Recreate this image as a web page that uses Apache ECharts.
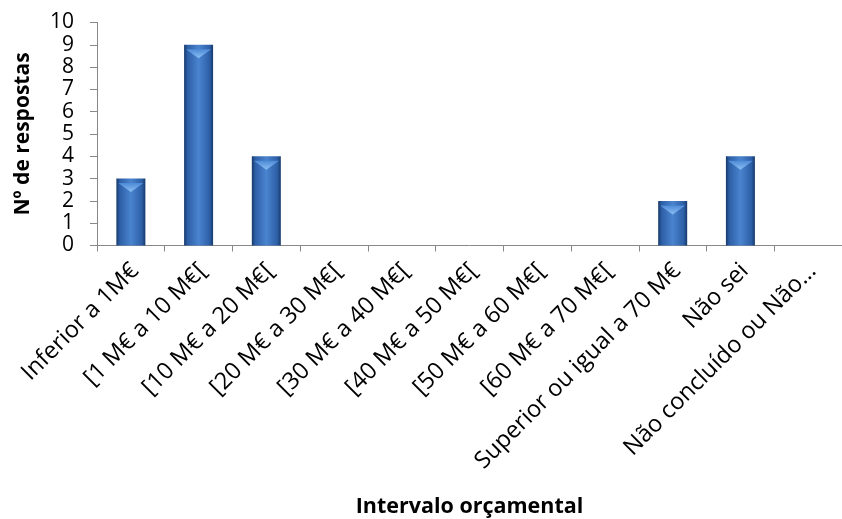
<!DOCTYPE html>
<html>
<head>
<meta charset="utf-8">
<script src="https://cdn.jsdelivr.net/npm/echarts@6/dist/echarts.min.js"></script>
<style>html,body{margin:0;padding:0;background:#fff;}#c{width:842px;height:519px;}</style>
</head>
<body>
<div id="c"></div>
<script>
const categories = ["Inferior a 1M€", "[1 M€ a 10 M€[", "[10 M€ a 20 M€[", "[20 M€ a 30 M€[", "[30 M€ a 40 M€[", "[40 M€ a 50 M€[", "[50 M€ a 60 M€[", "[60 M€ a 70 M€[", "Superior ou igual a 70 M€", "Não sei", "Não concluído ou Não…"];
const values = [3, 9, 4, 0, 0, 0, 0, 0, 2, 4, 0];
const yTitle = "Nº de respostas";
const xTitle = "Intervalo orçamental";

const font = "'Open Sans', sans-serif";
const chart = echarts.init(document.getElementById('c'));
chart.setOption({
  animation: false,
  backgroundColor: '#fff',
  grid: { left: 97, top: 22.5, width: 755, height: 223, containLabel: false },
  xAxis: {
    type: 'category',
    data: categories,
    boundaryGap: true,
    axisLine: { lineStyle: { color: '#888', width: 1 } },
    axisTick: { show: true, alignWithLabel: false, length: 6, lineStyle: { color: '#888' } },
    axisLabel: { rotate: 45, interval: 0, fontSize: 23.5, color: '#000', fontFamily: font, margin: 26, padding: [0, -6, 0, 0] },
    name: xTitle,
    nameLocation: 'middle',
    nameGap: 250,
    nameTextStyle: { fontSize: 21.5, fontWeight: 'bold', color: '#000', fontFamily: font }
  },
  yAxis: {
    type: 'value',
    min: 0, max: 10, interval: 1,
    splitLine: { show: false },
    axisLine: { show: true, lineStyle: { color: '#888', width: 1 } },
    axisTick: { show: true, length: 7, lineStyle: { color: '#888' } },
    axisLabel: { fontSize: 21, color: '#000', fontFamily: font, margin: 23, showMinLabel: true, showMaxLabel: true },
    name: yTitle,
    nameLocation: 'middle',
    nameGap: 63,
    nameRotate: 90,
    nameTextStyle: { fontSize: 21, fontWeight: 'bold', color: '#000', fontFamily: font }
  },
  series: [{
    type: 'bar',
    data: values,
    barWidth: 29,
    itemStyle: {
      borderWidth: 0,
      color: new echarts.graphic.LinearGradient(0, 0, 1, 0, [
        { offset: 0, color: '#16396a' },
        { offset: 0.12, color: '#2d5fa6' },
        { offset: 0.5, color: '#4a84cf' },
        { offset: 0.88, color: '#2d5fa6' },
        { offset: 1, color: '#16396a' }
      ])
    }
  }, {
    type: 'pictorialBar',
    data: values.map(v => v > 0 ? v : '-'),
    symbol: 'triangle',
    symbolRotate: 180,
    symbolSize: [25, 9],
    symbolPosition: 'end',
    symbolOffset: [0, '50%'],
    z: 3,
    itemStyle: {
      color: new echarts.graphic.LinearGradient(0, 0, 0, 1, [
        { offset: 0, color: '#8cc0f5' },
        { offset: 1, color: '#4d8ad6' }
      ])
    }
  }]
});
</script>
</body>
</html>
